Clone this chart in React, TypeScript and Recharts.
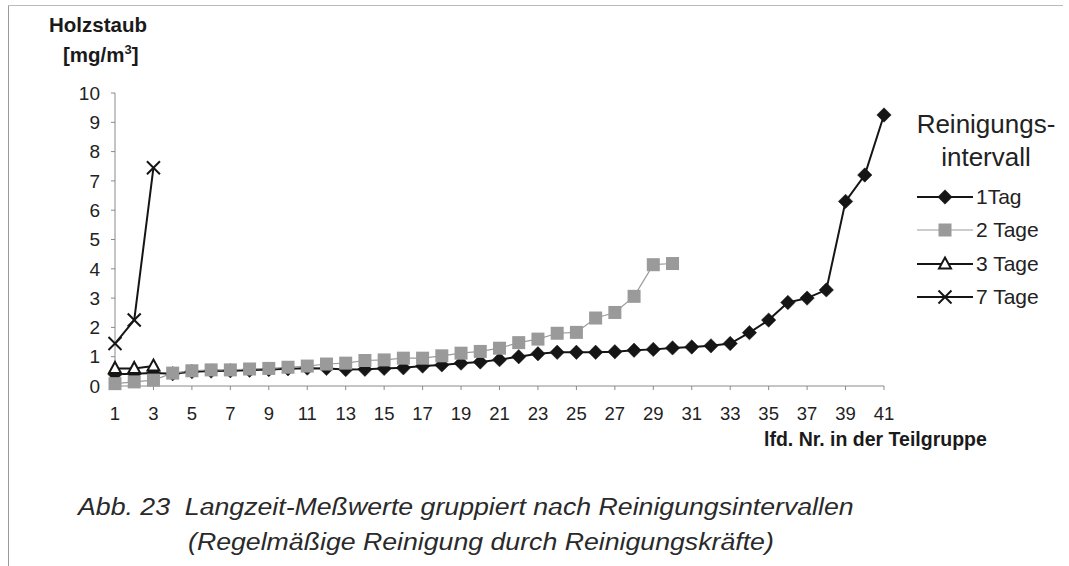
import React from 'react';
import { LineChart, Line, XAxis, YAxis, Legend } from 'recharts';

const positions = [1,2,3,4,5,6,7,8,9,10,11,12,13,14,15,16,17,18,19,20,21,22,23,24,25,26,27,28,29,30,31,32,33,34,35,36,37,38,39,40,41];
const xTicks = [1,3,5,7,9,11,13,15,17,19,21,23,25,27,29,31,33,35,37,39,41];
const yTicks = [0,1,2,3,4,5,6,7,8,9,10];

const tag1 = [0.40,0.42,0.44,0.42,0.49,0.51,0.52,0.54,0.56,0.59,0.61,0.60,0.56,0.57,0.60,0.62,0.68,0.72,0.78,0.82,0.90,1.00,1.10,1.15,1.15,1.15,1.17,1.22,1.25,1.30,1.33,1.37,1.45,1.82,2.25,2.85,3.00,3.28,6.30,7.20,9.25];
const tage2 = [0.08,0.14,0.20,0.44,0.52,0.55,0.55,0.58,0.60,0.64,0.68,0.75,0.78,0.87,0.89,0.95,0.95,1.03,1.12,1.18,1.29,1.48,1.60,1.80,1.83,2.32,2.51,3.06,4.14,4.18];
const tage3 = [0.60,0.60,0.68];
const tage7 = [1.45,2.25,7.45];

const seriesNames = ['1Tag', '2 Tage', '3 Tage', '7 Tage'];

const data = positions.map((x, i) => ({
  x,
  t1: tag1[i],
  t2: tage2[i],
  t3: tage3[i],
  t7: tage7[i],
}));

const FONT = '"Liberation Sans", Arial, Helvetica, sans-serif';

const Diamond = (props: any) => {
  const { cx, cy } = props;
  if (cx == null || cy == null || props.value == null) return null;
  const r = 7.2;
  return <polygon points={`${cx},${cy - r} ${cx + r},${cy} ${cx},${cy + r} ${cx - r},${cy}`} fill="#151515" stroke="#151515" strokeWidth={0.5} />;
};
const Square = (props: any) => {
  const { cx, cy } = props;
  if (cx == null || cy == null || props.value == null) return null;
  const s = 13;
  return <rect x={cx - s / 2} y={cy - s / 2} width={s} height={s} fill="#9a9a9a" stroke="none" />;
};
const Triangle = (props: any) => {
  const { cx, cy } = props;
  if (cx == null || cy == null || props.value == null) return null;
  const w = 6;
  return <polygon points={`${cx},${cy - 6.5} ${cx + w},${cy + 4.5} ${cx - w},${cy + 4.5}`} fill="#fff" stroke="#151515" strokeWidth={2} />;
};
const Cross = (props: any) => {
  const { cx, cy } = props;
  if (cx == null || cy == null || props.value == null) return null;
  const r = 6.5;
  return (
    <g stroke="#151515" strokeWidth={2}>
      <line x1={cx - r} y1={cy - r} x2={cx + r} y2={cy + r} />
      <line x1={cx - r} y1={cy + r} x2={cx + r} y2={cy - r} />
    </g>
  );
};

const legendStyles = [
  { stroke: '#151515', width: 2, marker: 'diamond' },
  { stroke: '#9a9a9a', width: 1.2, marker: 'square' },
  { stroke: '#151515', width: 2, marker: 'triangle' },
  { stroke: '#151515', width: 2, marker: 'cross' },
];

const LegendContent = () => (
  <div style={{ fontFamily: FONT, color: '#222', width: 150 }}>
    <div style={{ fontSize: 26, lineHeight: '33px', textAlign: 'center', width: 140 }}>Reinigungs-<br />intervall</div>
    <div style={{ marginTop: 6 }}>
      {seriesNames.map((name, i) => {
        const st = legendStyles[i];
        return (
          <div key={name} style={{ display: 'flex', alignItems: 'center', height: 33.5 }}>
            <svg width={58} height={20} style={{ display: 'block' }}>
              <line x1={1} y1={10} x2={57} y2={10} stroke={st.stroke} strokeWidth={st.width} />
              {st.marker === 'diamond' && <Diamond cx={29} cy={10} value={1} />}
              {st.marker === 'square' && <Square cx={29} cy={10} value={1} />}
              {st.marker === 'triangle' && <Triangle cx={29} cy={10} value={1} />}
              {st.marker === 'cross' && <Cross cx={29} cy={10} value={1} />}
            </svg>
            <span style={{ fontSize: 21, marginLeft: 2 }}>{name}</span>
          </div>
        );
      })}
    </div>
  </div>
);

const captionStyle: React.CSSProperties = {
  position: 'absolute', fontSize: 23, fontStyle: 'italic', fontFamily: FONT, color: '#2a2a2a',
  whiteSpace: 'pre', transform: 'scaleX(1.16)', transformOrigin: 'left center',
};

export default function App() {
  return (
    <div style={{ position: 'absolute', left: 0, top: 0, width: 1069, height: 566, background: '#fff', fontFamily: FONT }}>
      <div style={{ position: 'absolute', left: 8, top: 5, width: 1, height: 561, background: '#9a9a9a' }} />
      <div style={{ position: 'absolute', left: 8, top: 5, width: 1055, height: 1, background: '#bbb' }} />
      <div style={{ position: 'absolute', left: 49, top: 13, fontSize: 20.5, fontWeight: 'bold', color: '#1a1a1a' }}>Holzstaub</div>
      <div style={{ position: 'absolute', left: 63, top: 42, fontSize: 20.5, fontWeight: 'bold', color: '#1a1a1a' }}>[mg/m<sup style={{ fontSize: 13 }}>3</sup>]</div>
      <div style={{ position: 'absolute', left: 764, top: 428, fontSize: 19.5, fontWeight: 'bold', color: '#1a1a1a' }}>lfd. Nr. in der Teilgruppe</div>
      <div style={{ ...captionStyle, left: 78, top: 494 }}>Abb. 23  Langzeit-Meßwerte gruppiert nach Reinigungsintervallen</div>
      <div style={{ ...captionStyle, left: 188, top: 529 }}>(Regelmäßige Reinigung durch Reinigungskräfte)</div>
      <div style={{ position: 'absolute', left: 0, top: 0 }}>
        <LineChart width={1069} height={566} data={data} margin={{ top: 93, right: 185, bottom: 150, left: 55 }}>
          <XAxis dataKey="x" type="number" domain={[1, 41]} ticks={xTicks} interval={0}
            tick={{ fontSize: 18.5, fill: '#222', fontFamily: FONT }} tickSize={4} tickMargin={17}
            stroke="#8a8a8a" height={30} />
          <XAxis xAxisId="top" orientation="top" dataKey="x" type="number" domain={[1, 41]} tick={false} tickLine={false} stroke="#9a9a9a" height={0} />
          <YAxis type="number" domain={[0, 10]} ticks={yTicks} interval={0}
            tick={{ fontSize: 19, fill: '#222', fontFamily: FONT }} tickSize={4} tickMargin={11}
            stroke="#8a8a8a" width={60} />
          <YAxis yAxisId="right" orientation="right" domain={[0, 10]} tick={false} tickLine={false} stroke="#9a9a9a" width={0} />
          <Legend verticalAlign="middle" align="center" layout="horizontal" content={<LegendContent />}
            wrapperStyle={{ position: 'absolute', left: 916, top: 108, width: 150, height: 'auto' }} />
          <Line dataKey="t1" name="1Tag" stroke="#151515" strokeWidth={2} dot={<Diamond />} activeDot={false} isAnimationActive={false} />
          <Line dataKey="t2" name="2 Tage" stroke="#9a9a9a" strokeWidth={1.2} dot={<Square />} activeDot={false} isAnimationActive={false} />
          <Line dataKey="t3" name="3 Tage" stroke="#151515" strokeWidth={2} dot={<Triangle />} activeDot={false} isAnimationActive={false} />
          <Line dataKey="t7" name="7 Tage" stroke="#151515" strokeWidth={2} dot={<Cross />} activeDot={false} isAnimationActive={false} />
        </LineChart>
      </div>
    </div>
  );
}
